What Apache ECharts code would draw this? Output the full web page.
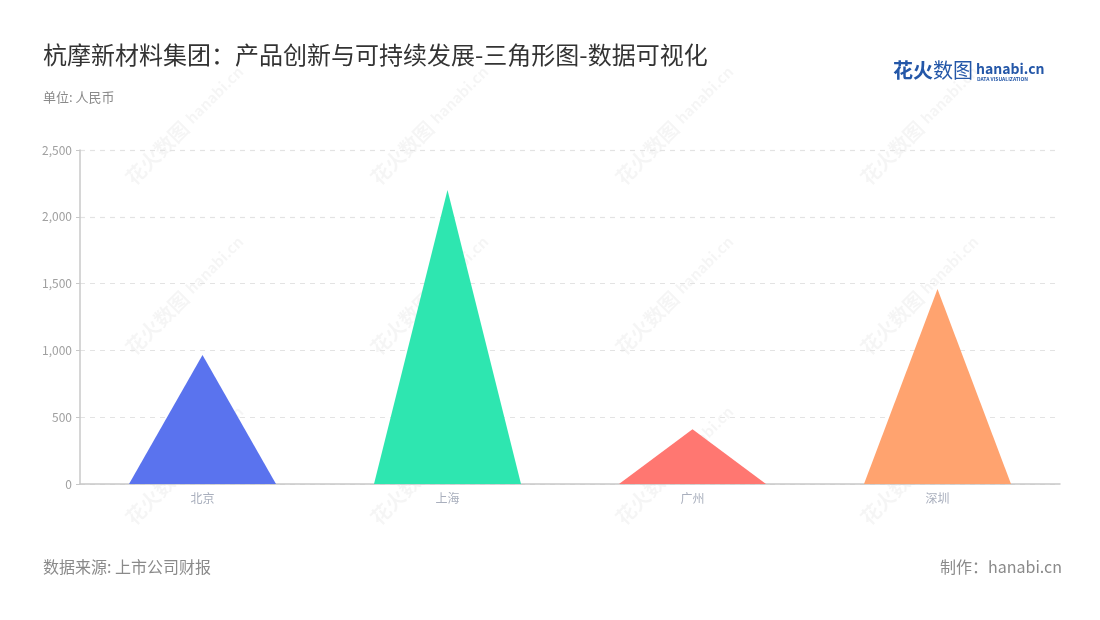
<!doctype html>
<html>
<head>
  <meta charset="UTF-8" />
  <title>三角形图</title>
  <script src="https://cdn.jsdelivr.net/npm/echarts@6.0.0/dist/echarts.min.js"></script>
  <style>
    html, body { margin: 0; padding: 0; background: #ffffff; }
    #chart { width: 1100px; height: 620px; }
  </style>
</head>
<body>
  <div id="chart"></div>
  <script>
    const cities = ["北京", "上海", "广州", "深圳"];
    const amounts = [965, 2200, 410, 1460];
    const barColors = ["#5a73ee", "#2ee6b0", "#ff7771", "#ffa36f"];
    const yTicks = { min: 0, max: 2500, interval: 500 };

    const chart = echarts.init(document.getElementById("chart"));
    const font = '"Noto Sans CJK SC", "Noto Sans", sans-serif';

    // faint diagonal watermark tiles
    const marks = [];
    [160, 330, 500].forEach((y) => {
      [150, 395, 640, 885].forEach((x) => {
        marks.push({
          type: "group",
          x: x,
          y: y,
          rotation: Math.PI / 4,
          silent: true,
          z: 0,
          children: [
            { type: "text", style: { text: "花火数图", x: -30, y: -10, font: "bold 20px " + font, fill: "rgba(0,0,0,0.04)" } },
            { type: "text", style: { text: "hanabi.cn", x: 55, y: -8, font: "bold 15px " + font, fill: "rgba(0,0,0,0.04)" } },
          ],
        });
      });
    });

    const option = {
      backgroundColor: "#ffffff",
      title: [
        {
          text: "杭摩新材料集团：产品创新与可持续发展-三角形图-数据可视化",
          left: 38,
          top: 38,
          textStyle: { fontFamily: font, fontSize: 24, fontWeight: "normal", color: "#333333" },
        },
        {
          text: "单位: 人民币",
          left: 38,
          top: 86,
          textStyle: { fontFamily: font, fontSize: 13, fontWeight: "normal", color: "#8a8a8a" },
        },
        {
          text: "数据来源: 上市公司财报",
          left: 38,
          top: 554,
          textStyle: { fontFamily: font, fontSize: 16, fontWeight: "normal", color: "#8a8a8a" },
        },
        {
          text: "制作：hanabi.cn",
          right: 33,
          top: 554,
          textStyle: { fontFamily: font, fontSize: 16, fontWeight: "normal", color: "#8a8a8a" },
        },
      ],
      graphic: marks.concat([
        { type: "text", left: 893, top: 60, style: { text: "花火", font: "bold 20px " + font, fill: "#2457a8" } },
        { type: "text", left: 933, top: 60, style: { text: "数图", font: "20px " + font, fill: "#2457a8" } },
        { type: "text", left: 976, top: 62, style: { text: "hanabi.cn", font: "bold 14px " + font, fill: "#2457a8" } },
        { type: "text", left: 977, top: 77, style: { text: "DATA VISUALIZATION", font: "bold 5px " + font, fill: "#2457a8" } },
      ]),
      grid: { left: 80, right: 40, top: 150, bottom: 136 },
      xAxis: {
        type: "category",
        data: cities,
        axisLine: { lineStyle: { color: "#c8c8c8", width: 1.5 } },
        axisTick: { alignWithLabel: true, length: 5, lineStyle: { color: "#888" } },
        axisLabel: { color: "#a9afbd", fontSize: 12, fontFamily: font, margin: 8 },
      },
      yAxis: {
        type: "value",
        min: yTicks.min,
        max: yTicks.max,
        interval: yTicks.interval,
        axisLine: { show: true, lineStyle: { color: "#c8c8c8", width: 1.5 } },
        axisTick: { show: true, length: 4, lineStyle: { color: "#c8c8c8" } },
        axisLabel: {
          color: "#a0a0a0",
          fontSize: 12,
          fontFamily: font,
          formatter: (v) => v.toLocaleString("en-US"),
        },
        splitLine: { lineStyle: { color: "#e3e3e3", type: [5, 5], width: 1.2 } },
      },
      series: [
        {
          type: "pictorialBar",
          symbol: "path://M0,100 L50,0 L100,100 Z",
          barCategoryGap: "40%",
          data: amounts.map((v, i) => ({ value: v, itemStyle: { color: barColors[i] } })),
          z: 2,
        },
      ],
    };

    chart.setOption(option);
  </script>
</body>
</html>
